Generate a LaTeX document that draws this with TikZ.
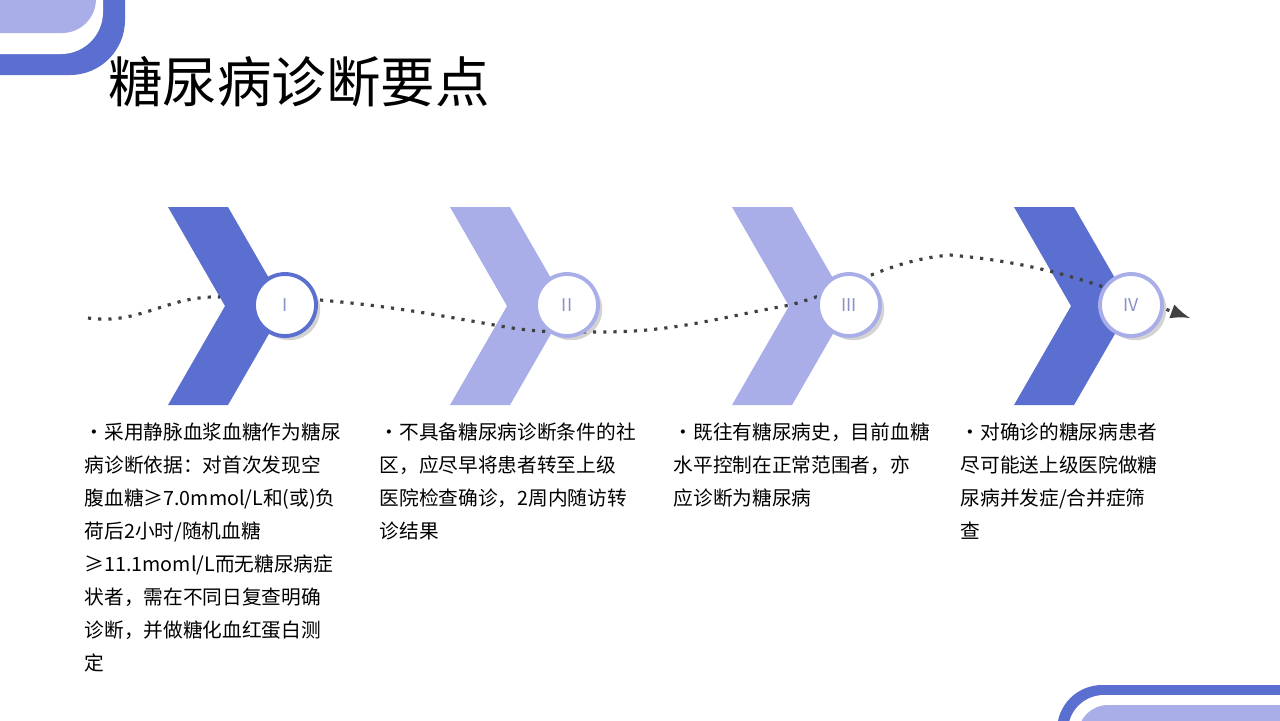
\documentclass[tikz,border=0pt]{standalone}
\usepackage{fontspec}
\setmainfont{Noto Sans CJK SC}
\usetikzlibrary{shadows}
\definecolor{darkblue}{HTML}{5A6FD0}
\definecolor{lightblue}{HTML}{A9AEE8}
\definecolor{numgrey}{HTML}{8A90C8}
\tikzset{
  stepcircle/.style={circle,fill=white,minimum size=62\pxu,line width=1.1pt,inner sep=0pt,
    drop shadow={shadow xshift=1.2pt,shadow yshift=-1.2pt,opacity=0.35},text=numgrey,font=\fontsize{5}{6}\selectfont},
  bodytext/.style={anchor=north west,align=left,font=\fontsize{5.6}{9.4}\selectfont,inner sep=0pt}
}
\newlength{\pxu}\setlength{\pxu}{0.01cm}
\begin{document}
\begin{tikzpicture}[x={(0.01cm,0)},y={(0,-0.01cm)}]
            \useasboundingbox (0,0) rectangle (1280,720);
            % corners
            \fill[darkblue] (-100,-100) rectangle (125,75) [rounded corners=0] ;
            \fill[white] (0,0) rectangle (130,80);
            \fill[darkblue,rounded corners=55\pxu] (-100,-100) rectangle (125,75);
            \fill[white,rounded corners=42\pxu] (-100,-100) rectangle (103,54);
            \fill[lightblue,rounded corners=34\pxu] (-100,-100) rectangle (96,33);
            \fill[darkblue,rounded corners=45\pxu] (1057,685) rectangle (1400,800);
            \fill[white,rounded corners=36\pxu] (1068,695) rectangle (1400,800);
            \fill[lightblue,rounded corners=30\pxu] (1078,705) rectangle (1400,800);
            \node[anchor=west,font=\fontsize{15.5}{18}\selectfont] (title) at (96,82) {糖尿病诊断要点};
            % chevrons
            \foreach \i/\c in {0/darkblue,1/lightblue,2/lightblue,3/darkblue}{
                \fill[\c] (168+282*\i,207)--(228+282*\i,207)--(285+282*\i,306)--(228+282*\i,405)--(168+282*\i,405)--(225+282*\i,306)--cycle;
            }
            % dotted path
            \draw[line width=0.9pt,dotted,black!75,-latex] (88,318) to[out=-8,in=178] (220,297)
                (320,300) to[out=-5,in=170] (500,326) to[out=-10,in=180] (600,332)
                to[out=0,in=190] (790,305) to[out=15,in=185] (950,255) to[out=-5,in=160] (1190,318);
            \node[stepcircle,draw=darkblue] (c1) at (285,305) {I};
            \node[stepcircle,draw=lightblue] (c2) at (567,305) {II};
            \node[stepcircle,draw=lightblue] (c3) at (849,305) {III};
            \node[stepcircle,draw=lightblue] (c4) at (1131,305) {IV};
            % texts
            \node[bodytext] (t1) at (84,422) {•采用静脉血浆血糖作为糖尿\\病诊断依据：对首次发现空\\腹血糖≥7.0mmol/L和(或)负\\荷后2小时/随机血糖\\≥11.1moml/L而无糖尿病症\\状者，需在不同日复查明确\\诊断，并做糖化血红蛋白测\\定};
            \node[bodytext] (t2) at (379,422) {•不具备糖尿病诊断条件的社\\区，应尽早将患者转至上级\\医院检查确诊，2周内随访转\\诊结果};
            \node[bodytext] (t3) at (673,422) {•既往有糖尿病史，目前血糖\\水平控制在正常范围者，亦\\应诊断为糖尿病};
            \node[bodytext] (t4) at (960,422) {•对确诊的糖尿病患者\\尽可能送上级医院做糖\\尿病并发症/合并症筛\\查};
\end{tikzpicture}
\end{document}
